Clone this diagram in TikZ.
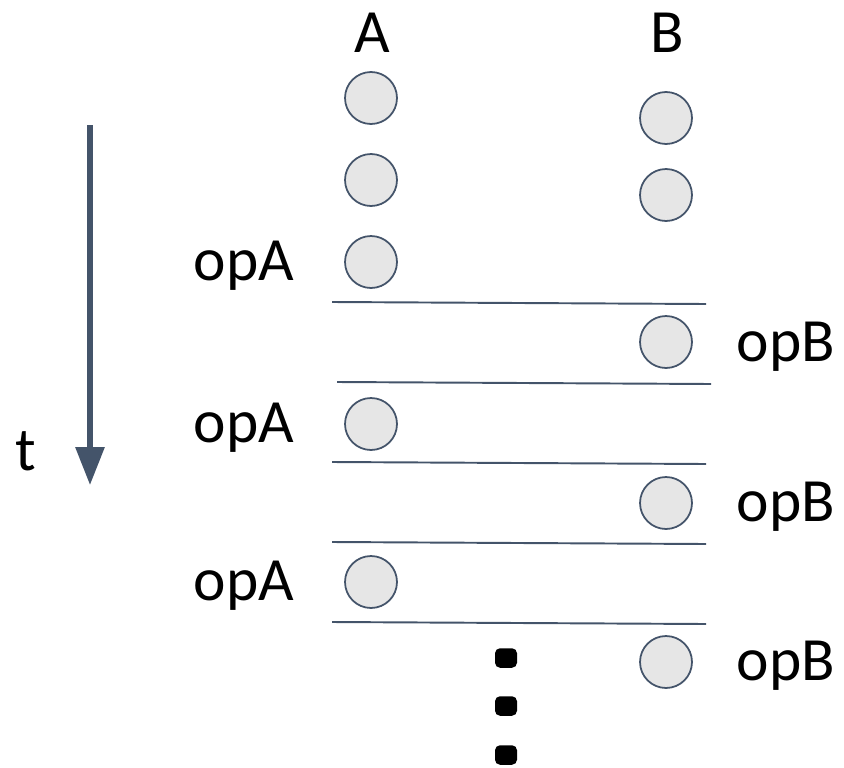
\documentclass[tikz,border=0pt]{standalone}
\usepackage{fontspec}
\setmainfont{Carlito}
\usetikzlibrary{arrows.meta}
\definecolor{slate}{HTML}{44546A}
\definecolor{ballgray}{HTML}{E6E6E6}

\tikzset{
  ball/.style={draw=slate, fill=ballgray, circle, line width=1pt, minimum size=1.04cm, inner sep=0pt},
  sepline/.style={draw=slate, line width=1.1pt},
  lbl/.style={font=\fontsize{35}{42}\selectfont, inner sep=0pt, anchor=base},
  dot/.style={fill=black, rounded corners=0.1cm, minimum width=0.44cm, minimum height=0.39cm, inner sep=0pt}
}

\begin{document}
\begin{tikzpicture}[x=0.02cm, y=-0.02cm]
  \useasboundingbox (0,0) rectangle (844,767);

  % time axis
  \coordinate (t0) at (90,125);
  \coordinate (t1) at (90,485);
  \draw[slate, line width=3pt, -{Triangle[width=16pt, length=21.5pt]}] (t0) -- (t1);
  \node[lbl] (t) at (26,470) {t};

  % column heads
  \node[lbl] (hA) at (372,52) {A};
  \node[lbl] (hB) at (667,52) {B};

  % balls of A
  \node[ball] (a1) at (371,98) {};
  \node[ball] (a2) at (371,180) {};
  \node[ball] (a3) at (371,262) {};
  \node[ball] (a4) at (371,424) {};
  \node[ball] (a5) at (371,582) {};

  % balls of B
  \node[ball] (b1) at (666,118) {};
  \node[ball] (b2) at (666,195) {};
  \node[ball] (b3) at (666,342) {};
  \node[ball] (b4) at (666,503) {};
  \node[ball] (b5) at (666,662) {};

  % operations
  \node[lbl] (opA1) at (244,280) {opA};
  \node[lbl] (opA2) at (244,442) {opA};
  \node[lbl] (opA3) at (244,600) {opA};
  \node[lbl] (opB1) at (786,361) {opB};
  \node[lbl] (opB2) at (786,521) {opB};
  \node[lbl] (opB3) at (786,680) {opB};

  % separators between steps
  \draw[sepline] (332,302) -- (706,304);
  \draw[sepline] (337,382) -- (711,384);
  \draw[sepline] (332,462) -- (706,464);
  \draw[sepline] (332,542) -- (706,544);
  \draw[sepline] (332,622) -- (706,624);

  % and so on
  \foreach \y [count=\i] in {658,706,755}
    \node[dot] (d\i) at (506,\y) {};
\end{tikzpicture}
\end{document}
